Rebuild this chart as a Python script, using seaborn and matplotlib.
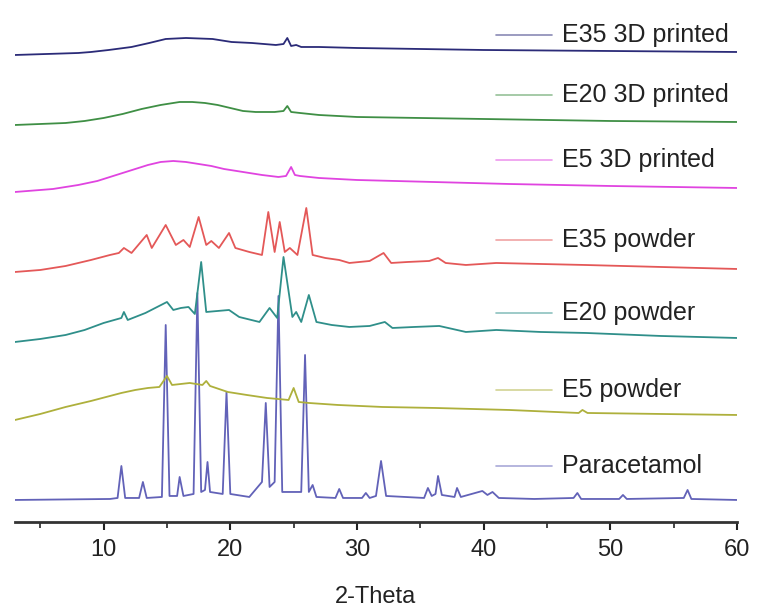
import matplotlib
matplotlib.use("Agg")
import matplotlib.pyplot as plt
from matplotlib.ticker import MultipleLocator
import numpy as np
import pandas as pd
import seaborn as sns

# ---- data (2-Theta, stacked intensity in arbitrary units) ----
samples = ["E35 3D printed", "E20 3D printed", "E5 3D printed",
           "E35 powder", "E20 powder", "E5 powder", "Paracetamol"]

para_x = [3.0, 10.5, 11.1, 11.4, 11.7, 12.8, 13.1, 13.4, 14.6, 14.9, 15.2, 15.8, 16.0, 16.3,
          17.1, 17.4, 17.7, 18.0, 18.2, 18.4, 19.4, 19.7, 20.0, 21.5, 22.5, 22.8, 23.1, 23.5,
          23.8, 24.1, 25.6, 25.9, 26.2, 26.5, 26.8, 28.3, 28.6, 28.9, 30.4, 30.7, 31.0, 31.5,
          31.9, 32.3, 35.3, 35.6, 35.9, 36.2, 36.4, 36.7, 37.7, 37.9, 38.2, 39.9, 40.3, 40.7,
          41.2, 44.0, 47.1, 47.4, 47.7, 50.7, 51.0, 51.3, 55.8, 56.1, 56.4, 60.0]
para_y = [22, 23, 24, 56, 24, 24, 40, 24, 25, 197, 26, 26, 45, 26,
          28, 229, 30, 32, 60, 30, 28, 130, 28, 25, 40, 119, 35, 40,
          226, 30, 30, 167, 30, 37, 25, 24, 33, 24, 24, 29, 24, 26,
          61, 26, 24, 34, 26, 28, 46, 27, 25, 34, 25, 31, 27, 30,
          24, 23, 24, 29, 23, 23, 27, 23, 24, 32, 23, 22]

e5p_x = [3.0, 5.0, 7.0, 9.0, 10.5, 11.4, 12.5, 13.5, 14.4, 15.0, 15.4, 16.8, 17.8, 18.1,
         18.4, 19.8, 21.3, 22.9, 24.6, 25.0, 25.4, 26.2, 28.5, 32.0, 36.2, 42.0, 47.5,
         47.8, 48.2, 54.0, 60.0]
e5p_y = [102, 108, 115, 121, 126, 129, 132, 134, 135, 146, 137, 139, 137, 141,
         136, 130, 127, 124, 122, 134, 120, 119, 117, 115, 114, 112, 109,
         112, 109, 108, 107]

e20p_x = [3.0, 5.0, 7.0, 8.5, 10.0, 11.4, 11.6, 11.9, 13.3, 15.0, 15.5, 16.1, 16.7, 17.2,
          17.7, 18.1, 19.9, 20.7, 22.3, 23.1, 23.7, 24.2, 24.9, 25.2, 25.6, 26.2, 26.8,
          28.0, 29.4, 31.0, 32.2, 32.8, 34.5, 36.5, 38.6, 41.0, 44.5, 48.1, 54.0, 60.0]
e20p_y = [180, 183, 187, 192, 199, 204, 210, 202, 209, 220, 212, 214, 215, 208,
          260, 210, 212, 205, 200, 214, 204, 265, 205, 210, 200, 227, 200,
          197, 195, 196, 200, 194, 195, 196, 190, 192, 190, 189, 186, 184]

e35p_x = [3.0, 5.0, 7.0, 9.0, 10.5, 11.2, 11.6, 12.2, 13.4, 13.8, 14.9, 15.7, 16.3, 16.8,
          17.5, 18.1, 18.5, 19.1, 19.9, 20.4, 21.5, 22.5, 23.0, 23.5, 23.9, 24.3, 24.7,
          25.3, 26.0, 26.5, 27.5, 28.6, 29.4, 31.0, 32.1, 32.7, 34.0, 35.7, 36.4, 37.0,
          38.6, 41.0, 44.5, 48.0, 54.0, 60.0]
e35p_y = [250, 252, 256, 262, 267, 269, 274, 269, 287, 274, 297, 277, 282, 275,
          305, 277, 281, 274, 289, 274, 270, 267, 310, 270, 300, 270, 274,
          267, 314, 267, 264, 262, 259, 261, 269, 259, 260, 261, 264, 259,
          257, 259, 258, 257, 255, 253]

e5d_x = [3.0, 6.0, 8.0, 9.5, 11.0, 12.5, 13.5, 14.5, 15.5, 16.5, 17.5, 18.5, 19.5, 21.0,
         22.5, 23.8, 24.4, 24.8, 25.1, 25.5, 27.0, 30.0, 36.0, 42.0, 50.0, 60.0]
e5d_y = [330, 333, 337, 341, 347, 353, 357, 360, 361, 360, 358, 356, 353, 350,
         347, 345, 346, 355, 347, 346, 344, 342, 340, 338, 336, 334]

e20d_x = [3.0, 7.0, 8.5, 10.0, 11.5, 13.0, 14.5, 16.0, 17.0, 18.0, 19.0, 20.0, 21.0, 22.0,
          23.5, 24.2, 24.5, 24.8, 25.5, 27.0, 30.0, 40.0, 50.0, 60.0]
e20d_y = [397, 399, 401, 404, 408, 413, 417, 420, 420, 419, 417, 414, 411, 410,
          410, 411, 416, 410, 409, 407, 405, 403, 401, 400]

e35d_x = [3.0, 8.0, 9.0, 10.4, 12.2, 13.6, 14.9, 16.5, 18.6, 20.1, 21.7, 23.6, 24.2, 24.5,
          24.8, 25.2, 25.6, 27.0, 30.0, 40.0, 50.0, 60.0]
e35d_y = [467, 469, 470, 472, 475, 479, 483, 484, 483, 480, 479, 477, 478, 484,
          476, 477, 475, 475, 474, 472, 471, 470]

label_y = [487, 427, 362, 282, 209, 132, 56]

colors = {"E35 3D printed": "#2b2b78", "E20 3D printed": "#3f8f45",
          "E5 3D printed": "#e044e0", "E35 powder": "#e45858",
          "E20 powder": "#2f8f8a", "E5 powder": "#aeb03c",
          "Paracetamol": "#6262b8"}

series = {"E35 3D printed": (e35d_x, e35d_y), "E20 3D printed": (e20d_x, e20d_y),
          "E5 3D printed": (e5d_x, e5d_y), "E35 powder": (e35p_x, e35p_y),
          "E20 powder": (e20p_x, e20p_y), "E5 powder": (e5p_x, e5p_y),
          "Paracetamol": (para_x, para_y)}

rows = []
for name, (xs, ys) in series.items():
    for xv, yv in zip(xs, ys):
        rows.append({"sample": name, "two_theta": xv, "intensity": yv})
df = pd.DataFrame(rows)

sns.set_theme(style="white")
plt.rcParams["font.family"] = ["Liberation Sans", "DejaVu Sans"]

fig = plt.figure(figsize=(7.6, 6.13), dpi=100)
ax = fig.add_axes([0.0197, 0.1485, 0.95, 0.8352])

for name in reversed(samples):
    sub = df[df["sample"] == name]
    sns.lineplot(data=sub, x="two_theta", y="intensity", color=colors[name],
                 lw=1.3, estimator=None, sort=False, ax=ax)

for name, ly in zip(samples, label_y):
    ax.plot([41.0, 45.4], [ly, ly], color=colors[name], lw=1.2, alpha=0.55)
    ax.text(46.2, ly, name, fontsize=18, color="#222222", va="center", ha="left")

ax.set_xlim(3, 60)
ax.set_ylim(0, 512)
ax.set_yticks([])
ax.set_ylabel("")
ax.set_xlabel("2-Theta", fontsize=17, color="#222222", labelpad=18)
ax.xaxis.set_major_locator(MultipleLocator(10))
ax.xaxis.set_minor_locator(MultipleLocator(5))
ax.tick_params(axis="x", which="major", direction="out", length=6, width=1.5,
               labelsize=17, colors="#222222", pad=6, bottom=True)
ax.tick_params(axis="x", which="minor", direction="out", length=4, width=1.2,
               bottom=True)
for s in ["top", "left", "right"]:
    ax.spines[s].set_visible(False)
ax.spines["bottom"].set_linewidth(2.0)
ax.spines["bottom"].set_color("#333333")

fig.savefig("out.png", dpi=100)
